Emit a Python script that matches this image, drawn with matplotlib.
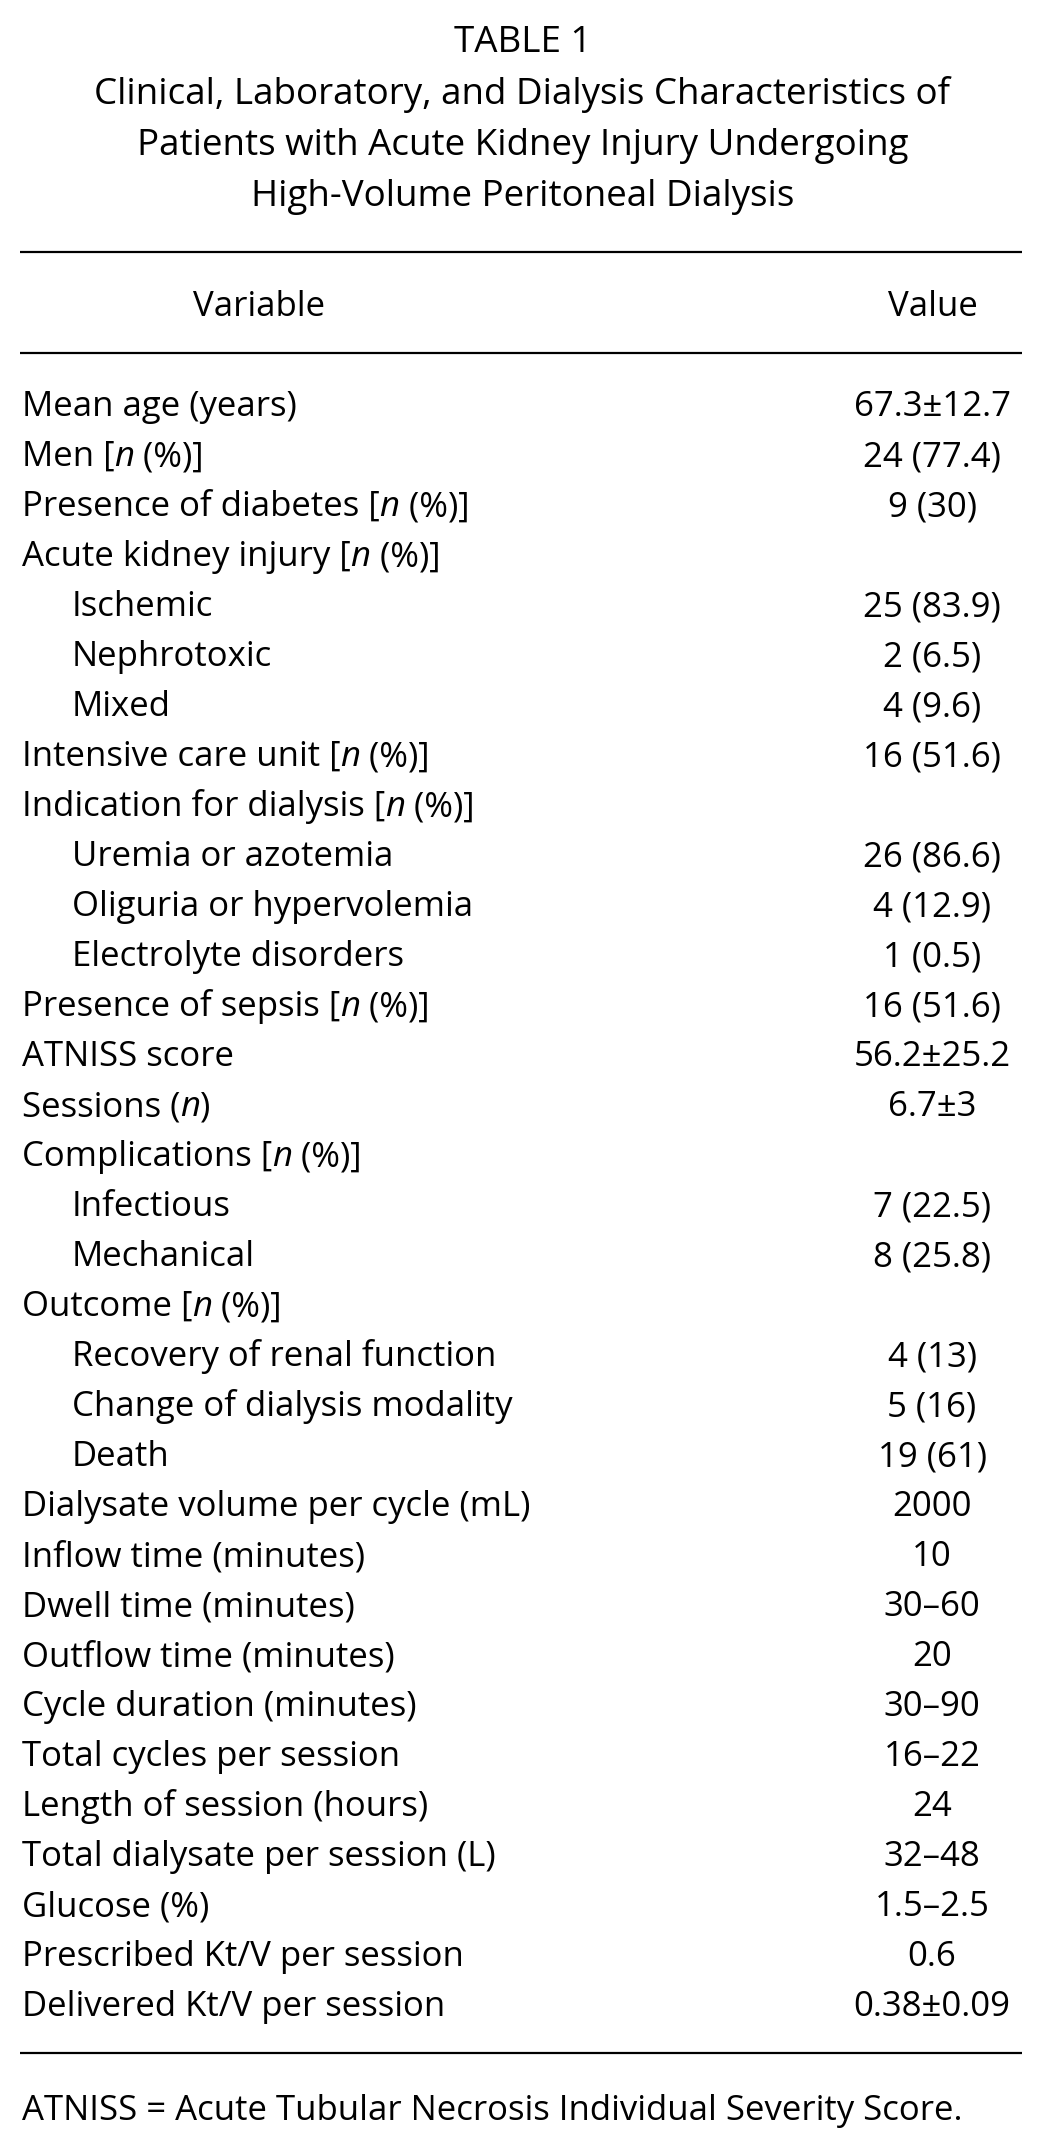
import matplotlib
matplotlib.use("Agg")
import matplotlib.pyplot as plt

FONT = ["Open Sans", "DejaVu Sans"]

title_lines = [
    "TABLE 1",
    "Clinical, Laboratory, and Dialysis Characteristics of",
    "Patients with Acute Kidney Injury Undergoing",
    "High-Volume Peritoneal Dialysis",
]
headers = ["Variable", "Value"]

# *...* marks italic pieces
labels = [
    "Mean age (years)", "Men [*n* (%)]", "Presence of diabetes [*n* (%)]",
    "Acute kidney injury [*n* (%)]", "Ischemic", "Nephrotoxic", "Mixed",
    "Intensive care unit [*n* (%)]", "Indication for dialysis [*n* (%)]",
    "Uremia or azotemia", "Oliguria or hypervolemia", "Electrolyte disorders",
    "Presence of sepsis [*n* (%)]", "ATNISS score", "Sessions (*n*)",
    "Complications [*n* (%)]", "Infectious", "Mechanical", "Outcome [*n* (%)]",
    "Recovery of renal function", "Change of dialysis modality", "Death",
    "Dialysate volume per cycle (mL)", "Inflow time (minutes)",
    "Dwell time (minutes)", "Outflow time (minutes)", "Cycle duration (minutes)",
    "Total cycles per session", "Length of session (hours)",
    "Total dialysate per session (L)", "Glucose (%)",
    "Prescribed Kt/V per session", "Delivered Kt/V per session",
]
indent = [0, 0, 0, 0, 1, 1, 1, 0, 0, 1, 1, 1, 0, 0, 0, 0, 1, 1, 0, 1, 1, 1,
          0, 0, 0, 0, 0, 0, 0, 0, 0, 0, 0]
values = [
    "67.3\u00b112.7", "24 (77.4)", "9 (30)", "", "25 (83.9)", "2 (6.5)",
    "4 (9.6)", "16 (51.6)", "", "26 (86.6)", "4 (12.9)", "1 (0.5)",
    "16 (51.6)", "56.2\u00b125.2", "6.7\u00b13", "", "7 (22.5)", "8 (25.8)",
    "", "4 (13)", "5 (16)", "19 (61)", "2000", "10", "30\u201360", "20",
    "30\u201390", "16\u201322", "24", "32\u201348", "1.5\u20132.5", "0.6",
    "0.38\u00b10.09",
]
footnote = "ATNISS = Acute Tubular Necrosis Individual Severity Score."

W, H = 1045, 2136
fig = plt.figure(figsize=(W / 100, H / 100), dpi=100)
fig.patch.set_facecolor("white")
ax = fig.add_axes([0, 0, 1, 1])
ax.set_xlim(0, W)
ax.set_ylim(H, 0)
ax.axis("off")

FS = 25
FS_TITLE = 26.5
renderer = fig.canvas.get_renderer()


def put(x, y, s, ha="left", style="normal", size=FS):
    return ax.text(x, y, s, ha=ha, va="baseline", fontsize=size,
                   family=FONT, style=style, weight=500, color="black")


def put_mixed(x, y, s):
    # draw alternating normal/italic pieces left to right
    parts = s.split("*")
    for i, part in enumerate(parts):
        if not part:
            continue
        t = put(x, y, part, style="italic" if i % 2 else "normal")
        x += t.get_window_extent(renderer).width


# title block
title_y = [52, 104, 155, 206]
for s, y in zip(title_lines, title_y):
    put(W / 2, y, s, ha="center", size=FS_TITLE)

# rules
for y in [252, 353, 2053]:
    ax.plot([20, 1022], [y, y], color="black", lw=1.6, solid_capstyle="butt")

put(259, 316, headers[0], ha="center")
put(933, 316, headers[1], ha="center")

x_left, x_indent, x_val = 22, 72, 932
row0, step = 416, 50
for i, (lab, lev, val) in enumerate(zip(labels, indent, values)):
    y = row0 + i * step
    put_mixed(x_indent if lev else x_left, y, lab)
    if val:
        put(x_val, y, val, ha="center")

put(22, 2120, footnote)

fig.savefig("out.png", dpi=100, facecolor="white")
